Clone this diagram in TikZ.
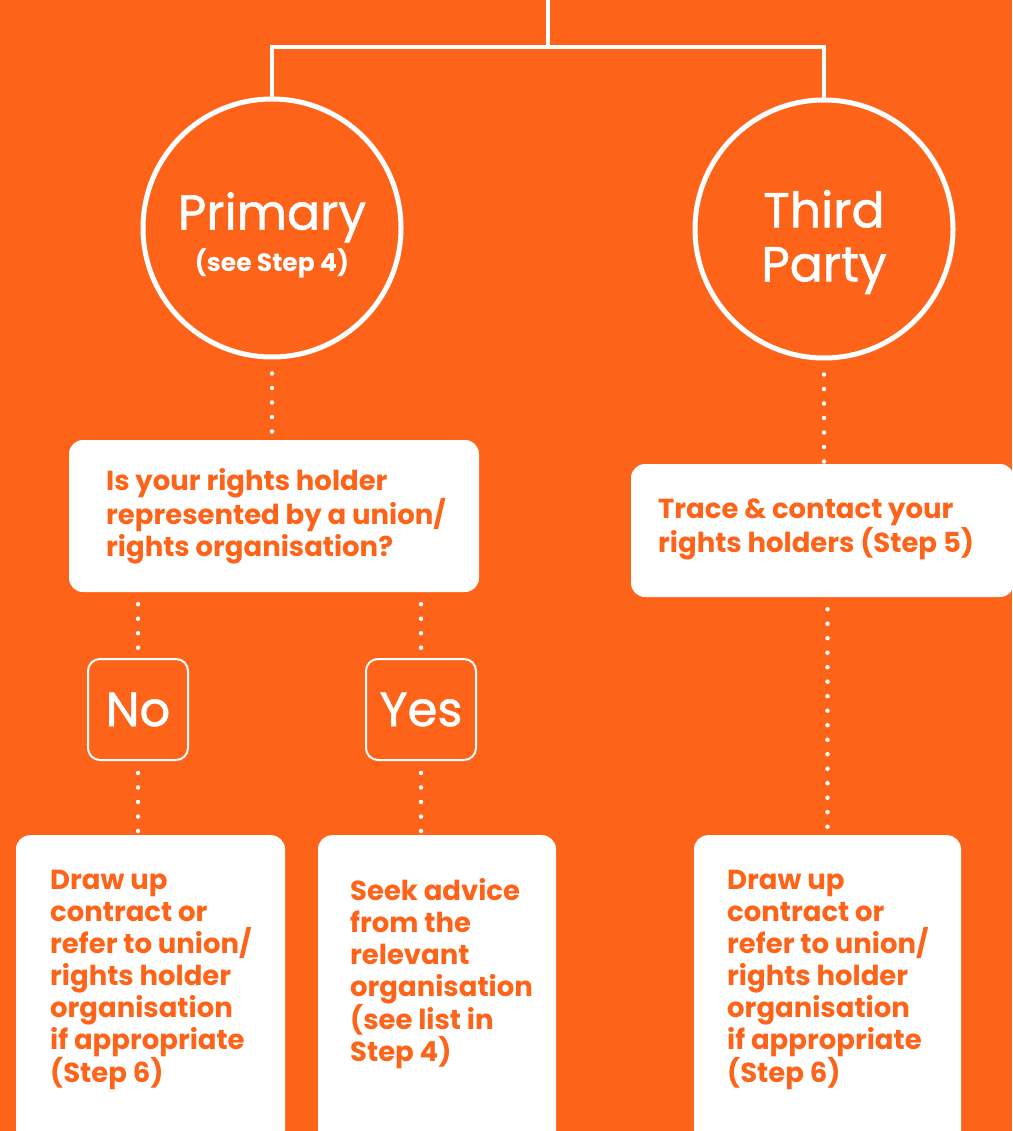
\documentclass[tikz,border=0pt]{standalone}
\usepackage{fontspec}
\setmainfont{Poppins}
\newfontfamily\titlefont{Poppins}[FakeBold=1.2]
\definecolor{brand}{RGB}{254,99,26}
\begin{document}
\begin{tikzpicture}[x=1pt,y=-1pt,
  link/.style={draw=white,line width=4pt},
  dots/.style={draw=white,line width=4.5pt,line cap=round,dash pattern=on 0pt off 14.5pt},
  ring/.style={circle,draw=white,line width=5pt,minimum size=258pt,inner sep=0pt},
  card/.style={rectangle,fill=white,rounded corners=14pt,inner sep=0pt},
  tag/.style={rectangle,draw=white,line width=2pt,rounded corners=12pt,inner sep=0pt,
    minimum height=101pt,text=white,font=\titlefont\fontsize{48}{52}\selectfont},
  body/.style={text=brand,font=\bfseries\fontsize{27.5}{32}\selectfont,align=left,inner sep=0pt,anchor=north west}
]
\useasboundingbox[fill=brand] (0,0) rectangle (1012,1131);

% branching bar at the top
\coordinate (top) at (548,0);
\coordinate (bar) at (548,47);
\node[ring] (prim) at (272,228) {};
\node[ring] (third) at (824,229) {};
\draw[link] (top) -- (bar);
\draw[link,line cap=rect] (prim.north) -- (prim.north |- bar) -- (third.north |- bar) -- (third.north);

% circle labels
\node[text=white,align=center,inner sep=0pt] (primtxt) at (272,235)
  {{\titlefont\fontsize{49}{52}\selectfont Primary}\\[5pt]{\bfseries\fontsize{25}{28}\selectfont (see Step 4)}};
\node[text=white,align=center,inner sep=0pt,font=\titlefont\fontsize{49}{54}\selectfont] (thirdtxt) at (824,242) {Third\\Party};

% question and trace cards
\node[card,minimum width=410pt,minimum height=152pt] (q) at (274,516) {};
\node[body] (qtxt) at (106,468) {Is your rights holder\\represented by a union/\\rights organisation?};
\node[card,minimum width=383pt,minimum height=133pt] (trace) at (822.5,530.5) {};
\node[body] (tracetxt) at (658,499) {Trace \& contact your\\rights holders (Step 5)};

% answers
\node[tag,minimum width=100pt] (no) at (138,709.5) {No};
\node[tag,minimum width=110pt] (yes) at (421,709.5) {Yes};

% outcome cards running off the bottom edge
\node[card,minimum width=269pt,minimum height=330pt,anchor=north] (b1) at (150.5,835) {};
\node[card,minimum width=238pt,minimum height=330pt,anchor=north] (b2) at (437,835) {};
\node[card,minimum width=267pt,minimum height=330pt,anchor=north] (b3) at (827.5,835) {};
\node[body] (b1txt) at (50,870) {Draw up\\contract or\\refer to union/\\rights holder\\organisation\\if appropriate\\(Step 6)};
\node[body] (b2txt) at (350,878) {Seek advice\\from the\\relevant\\organisation\\(see list in\\Step 4)};
\node[body] (b3txt) at (727,870) {Draw up\\contract or\\refer to union/\\rights holder\\organisation\\if appropriate\\(Step 6)};

% dotted connectors
\draw[dots] (prim.south) ++(0,14) -- (prim.south |- q.north);
\draw[dots] (third.south) ++(0,14) -- (third.south |- trace.north);
\draw[dots] (no.north |- q.south) ++(0,12) -- (no.north);
\draw[dots] (yes.north |- q.south) ++(0,12) -- (yes.north);
\draw[dots] (no.south) ++(0,12) -- (no.south |- b1.north);
\draw[dots] (yes.south) ++(0,12) -- (yes.south |- b2.north);
\draw[dots] (b3.north |- trace.south) ++(0,12) -- (b3.north);
\end{tikzpicture}
\end{document}
